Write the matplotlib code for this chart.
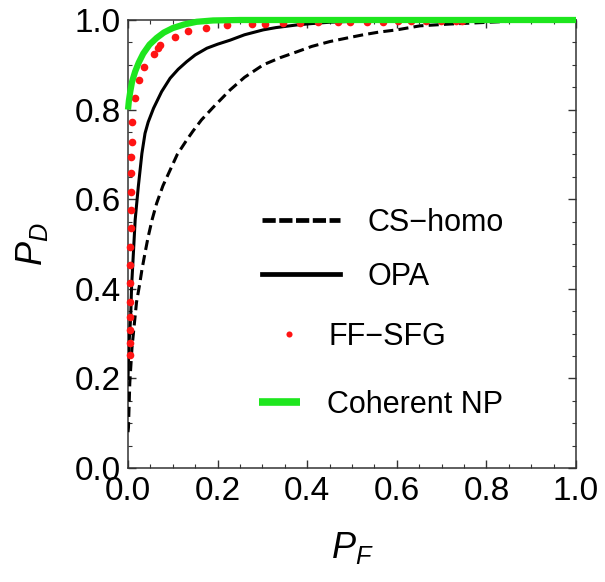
import matplotlib
matplotlib.use('Agg')
import matplotlib.pyplot as plt
from matplotlib.ticker import MultipleLocator, FormatStrFormatter

plt.rcParams['font.family'] = ['Liberation Sans', 'DejaVu Sans']
plt.rcParams['mathtext.fontset'] = 'custom'
plt.rcParams['mathtext.it'] = 'Liberation Sans:italic'
plt.rcParams['mathtext.rm'] = 'Liberation Sans'

# CS-homo (dashed)
pf_cs = [0.0, 0.001, 0.004, 0.009, 0.019, 0.026, 0.031, 0.038, 0.045, 0.054, 0.064,
         0.078, 0.094, 0.11, 0.131, 0.145, 0.164, 0.19, 0.228, 0.26, 0.302, 0.34,
         0.377, 0.41, 0.451, 0.49, 0.525, 0.56, 0.6, 0.652, 0.719, 0.763, 0.85, 0.92, 1.0]
pd_cs = [0.08, 0.09, 0.19, 0.27, 0.37, 0.41, 0.442, 0.48, 0.516, 0.555, 0.591,
         0.63, 0.665, 0.70, 0.732, 0.752, 0.777, 0.805, 0.844, 0.872, 0.9, 0.916,
         0.929, 0.941, 0.952, 0.96, 0.967, 0.973, 0.978, 0.987, 0.991, 0.993, 0.997, 0.999, 1.0]

# OPA (solid)
pf_opa = [0.0, 0.001, 0.003, 0.006, 0.008, 0.012, 0.016, 0.023, 0.031, 0.038, 0.045,
          0.057, 0.075, 0.094, 0.112, 0.131, 0.15, 0.176, 0.2, 0.228, 0.26, 0.302,
          0.33, 0.377, 0.41, 0.45, 0.5, 0.55, 0.6, 0.7, 1.0]
pd_opa = [0.2, 0.24, 0.29, 0.338, 0.405, 0.479, 0.554, 0.628, 0.702, 0.747, 0.772,
          0.803, 0.84, 0.87, 0.89, 0.907, 0.922, 0.937, 0.946, 0.955, 0.967, 0.978,
          0.983, 0.989, 0.992, 0.995, 0.997, 0.998, 0.999, 1.0, 1.0]

# FF-SFG (points)
pf_sfg = [0.004, 0.005, 0.005, 0.004, 0.005, 0.005, 0.005, 0.005, 0.006, 0.006,
          0.006, 0.007, 0.007, 0.008, 0.009, 0.016, 0.025, 0.036, 0.057, 0.068,
          0.071, 0.105, 0.135, 0.174, 0.22, 0.276, 0.306, 0.346, 0.384, 0.424,
          0.469, 0.496, 0.533, 0.57, 0.602, 0.632, 0.665, 0.699, 0.732, 0.745]
pd_sfg = [0.252, 0.278, 0.308, 0.338, 0.371, 0.412, 0.453, 0.494, 0.535, 0.576,
          0.617, 0.658, 0.695, 0.728, 0.773, 0.825, 0.866, 0.894, 0.923, 0.937,
          0.944, 0.963, 0.975, 0.983, 0.989, 0.991, 0.992, 0.993, 0.994, 0.995,
          0.995, 0.996, 0.996, 0.996, 0.997, 0.997, 0.997, 0.997, 0.997, 0.997]

# Coherent NP (green)
pf_np = [0.0, 0.002, 0.005, 0.009, 0.016, 0.024, 0.034, 0.048, 0.064, 0.08, 0.1,
         0.125, 0.153, 0.19, 0.25, 0.5, 1.0]
pd_np = [0.80, 0.82, 0.84, 0.862, 0.885, 0.905, 0.925, 0.945, 0.96, 0.972, 0.982,
         0.99, 0.996, 0.999, 1.0, 1.0, 1.0]

fig = plt.figure(figsize=(6.05, 5.82), dpi=100)
ax = fig.add_axes([128 / 605, 1 - 468 / 582, 448 / 605, 448 / 582])

l_cs, = ax.plot(pf_cs, pd_cs, color='black', lw=2.2, dashes=(3.3, 1.7), zorder=3)
l_opa, = ax.plot(pf_opa, pd_opa, color='black', lw=2.2, zorder=3)
l_sfg, = ax.plot(pf_sfg, pd_sfg, ls='none', marker='o', ms=5.5, color='#ff1414',
                 mec='none', zorder=4, clip_on=False)
l_np, = ax.plot(pf_np, pd_np, color='#1ee61e', lw=4.5, zorder=5, clip_on=False,
                solid_capstyle='butt')

ax.set_xlim(0, 1)
ax.set_ylim(0, 1)
ax.xaxis.set_major_locator(MultipleLocator(0.2))
ax.yaxis.set_major_locator(MultipleLocator(0.2))
ax.xaxis.set_minor_locator(MultipleLocator(0.05))
ax.yaxis.set_minor_locator(MultipleLocator(0.05))
ax.xaxis.set_major_formatter(FormatStrFormatter('%.1f'))
ax.yaxis.set_major_formatter(FormatStrFormatter('%.1f'))
ax.tick_params(which='both', direction='in', top=True, right=True, color='#333333')
ax.tick_params(which='major', length=5.5, width=1.0, labelsize=24, pad=5)
ax.tick_params(which='minor', length=3, width=0.8)
ax.tick_params(axis='x', which='major', pad=6)
for s in ax.spines.values():
    s.set_color('#333333')
    s.set_linewidth(1.1)

ax.set_xlabel('$P_F$', fontsize=26, labelpad=16)
ax.set_ylabel('$P_D$', fontsize=26, labelpad=18)

fs = 22
leg1 = ax.legend([l_cs, l_opa], ['CS\u2212homo', 'OPA'], loc='center left',
                 bbox_to_anchor=(0.299, 0.487), frameon=False, fontsize=fs,
                 borderpad=0, borderaxespad=0, handlelength=2.55, handletextpad=0.9,
                 labelspacing=0.8)
for ln in leg1.get_lines():
    ln.set_linewidth(3.4)
leg1.get_lines()[0].set_dashes((2.8, 0.75))
ax.add_artist(leg1)
leg2 = ax.legend([l_sfg], ['FF\u2212SFG'], loc='center left',
                 bbox_to_anchor=(0.326, 0.292), frameon=False, fontsize=fs,
                 borderpad=0, borderaxespad=0, handlelength=1.0, handletextpad=0.78,
                 markerscale=0.8)
ax.add_artist(leg2)
leg3 = ax.legend([l_np], ['Coherent NP'], loc='center left',
                 bbox_to_anchor=(0.292, 0.141), frameon=False, fontsize=fs,
                 borderpad=0, borderaxespad=0, handlelength=1.34, handletextpad=0.88)
leg3.get_lines()[0].set_linewidth(5.5)

fig.savefig('out.png', dpi=100)
